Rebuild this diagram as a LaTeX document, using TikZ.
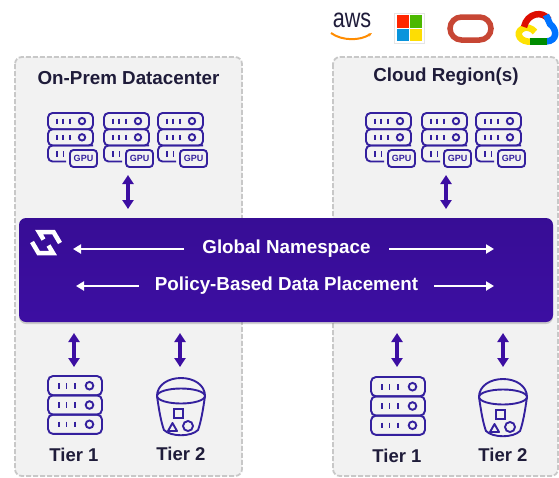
\documentclass[tikz,border=0pt]{standalone}
\usepackage{fontspec}
\setmainfont{Liberation Sans}
\usetikzlibrary{arrows.meta,shadows,positioning}
\definecolor{panelgray}{HTML}{F2F2F2}
\definecolor{dashgray}{HTML}{C8C8C8}
\definecolor{iconblue}{HTML}{34209E}
\definecolor{barpurple}{HTML}{3C0EA2}
\definecolor{inkdark}{HTML}{1F1C3A}
\definecolor{oraclered}{HTML}{C74634}
\tikzset{
	panelbox/.style={fill=panelgray,draw=dashgray,line width=1.8pt,dash pattern=on 5pt off 2pt,rounded corners=7pt},
	tierlabel/.style={font=\bfseries\fontsize{18.5}{20}\selectfont,text=inkdark},
	paneltitle/.style={font=\bfseries\fontsize{18.8}{20}\selectfont,text=inkdark},
	barlabel/.style={font=\bfseries\fontsize{18.8}{20}\selectfont,text=white},
	dataarrow/.style={draw=barpurple,line width=3.4pt,{Triangle[length=9pt,width=11pt]}-{Triangle[length=9pt,width=11pt]}},
	whitearrow/.style={draw=white,line width=2.2pt,-{Triangle[length=8pt,width=9pt]}},
	iconline/.style={draw=iconblue,line width=1.9pt},
	gpustack/.pic={
		\draw[iconline,rounded corners=4.5pt] (18,48.5) -- (0,48.5) -- (0,32.5) -- (45,32.5);
		\foreach \rowy in {0,16.25}{
			\draw[iconline,rounded corners=4.5pt] (0,\rowy) rectangle (45,\rowy+16.25);
			\draw[iconline] (9,\rowy+5.5) -- ++(0,5.5) (15,\rowy+5.5) -- ++(0,5.5) (21.7,\rowy+5.5) -- ++(0,5.5);
			\draw[iconline] (34,\rowy+8.1) circle (3.2);
		}
		\draw[iconline] (9,38) -- ++(0,5.5) (15.5,38) -- ++(0,5.5);
		\node[iconline,rounded corners=3.5pt,fill=panelgray,text=iconblue,font=\bfseries\fontsize{9}{10}\selectfont,
			minimum width=27pt,minimum height=17pt,inner sep=0pt] at (35.5,45.5) {GPU};
	},
	tierstack/.pic={
		\foreach \rowy in {0,19.3,38.6}{
			\draw[iconline,rounded corners=5pt] (0,\rowy) rectangle (54,\rowy+19.3);
			\draw[iconline] (11,\rowy+7) -- ++(0,5.5) (18.5,\rowy+7) -- ++(0,5.5) (27,\rowy+7) -- ++(0,5.5);
			\draw[iconline] (41.5,\rowy+9.7) circle (3.8);
		}
	},
	bucket/.pic={
		\draw[iconline] (0,18) ellipse (24 and 7.5);
		\draw[iconline] (-24,18) .. controls (-24,7) and (-13,0) .. (0,0) .. controls (13,0) and (24,7) .. (24,18);
		\draw[iconline] (-24,18) .. controls (-22,32) and (-20,44) .. (-17,52) .. controls (-10,59) and (10,59) .. (17,52) .. controls (20,44) and (22,32) .. (24,18);
		\draw[iconline] (-7,31) rectangle (2,40);
		\draw[iconline] (7,48) circle (5);
		\draw[iconline,line join=round] (-13,53) -- (-8.5,45) -- (-4,53) -- cycle;
	}
}
\begin{document}
\begin{tikzpicture}[x=1pt,y=-1pt]
	\useasboundingbox (0,0) rectangle (559,477);
	\fill[white] (0,0) rectangle (559,477);
	% panels
	\draw[panelbox] (15,57) rectangle (242,476);
	\draw[panelbox] (333,57) rectangle (558,476);
	\node[paneltitle] (onprem) at (128.5,78) {On-Prem Datacenter};
	\node[paneltitle] (cloud) at (446,77) {Cloud Region(s)};
	% cloud logos
	\node[font=\fontsize{27}{27}\selectfont,text=inkdark,xscale=.8] (aws) at (352,20) {aws};
	\draw[orange!90!yellow,line width=2pt,-{Stealth[length=4pt]}] (331,33) .. controls (342,41) and (360,41) .. (372,33);
	\fill[white,draw=black!10] (394.5,13) rectangle (424.5,43);
	\fill[red!70!orange] (397,15) rectangle (408.5,27.5);
	\fill[green!60!black!70!yellow] (410,15) rectangle (422,27.5);
	\fill[cyan!80!blue] (397,29) rectangle (408.5,41);
	\fill[yellow!80!orange] (410,29) rectangle (422,41);
	\draw[oraclered,line width=5.5pt,rounded corners=11.5pt] (450,17) rectangle (491,40);
	\draw[yellow!85!orange,line width=6.5pt] (532,41.5) .. controls (520,43) and (515,33) .. (522,29) .. controls (526,26) and (532,28) .. (535,32);
	\draw[red!85!black!90!orange,line width=6.5pt] (524,27) .. controls (527,13) and (543,10) .. (549,20);
	\draw[blue!55!cyan,line width=6.5pt] (546,15) -- (550,24) .. controls (557,29) and (558,41) .. (546,41.5);
	\draw[green!55!black,line width=6.5pt] (530,41.5) -- (547,41.5);
	% bar
	\shade[top color=barpurple!92!black,bottom color=barpurple,rounded corners=7pt,drop shadow={shadow xshift=0pt,shadow yshift=-2pt,opacity=.35}] (19,218) rectangle (553,322);
	\draw[white,line width=4.5pt] (60,243) -- (53.5,232) -- (39,232) -- (43.5,239.5);
	\draw[white,line width=4.5pt] (32,242) -- (38.5,253) -- (53,253) -- (48.5,245.5);
	\node[barlabel] (namespace) at (286.5,249) {Global Namespace};
	\node[barlabel] (placement) at (286.5,286) {Policy-Based Data Placement};
	\coordinate (nsleft) at (73,249);
	\coordinate (nsright) at (494,249);
	\coordinate (plleft) at (76,286);
	\coordinate (plright) at (494,286);
	\draw[whitearrow] (184,249) -- (nsleft);
	\draw[whitearrow] (389,249) -- (nsright);
	\draw[whitearrow] (139,286) -- (plleft);
	\draw[whitearrow] (434,286) -- (plright);
	% gpu servers
	\foreach \stackx/\stackname in {48/a,104/b,158/c,366/d,422/e,476/f}{
		\pic (gpu\stackname) at (\stackx,113) {gpustack};
	}
	% tiers
	\pic (tierA) at (48,376) {tierstack};
	\pic (tierB) at (371,377) {tierstack};
	\pic (bucketA) at (181,378) {bucket};
	\pic (bucketB) at (503,379) {bucket};
	\node[tierlabel] (tierAlabel) at (74,455) {Tier 1};
	\node[tierlabel] (bucketAlabel) at (181,454) {Tier 2};
	\node[tierlabel] (tierBlabel) at (397,456) {Tier 1};
	\node[tierlabel] (bucketBlabel) at (503,455) {Tier 2};
	% arrows
	\foreach \arrx/\ytop/\ybot in {128/175/209,446/175/209,74/333/367,180/333/367,397/333/367,503/333/367}{
		\coordinate (up\arrx) at (\arrx,\ytop);
		\coordinate (down\arrx) at (\arrx,\ybot);
		\draw[dataarrow] (up\arrx) -- (down\arrx);
	}
\end{tikzpicture}
\end{document}
